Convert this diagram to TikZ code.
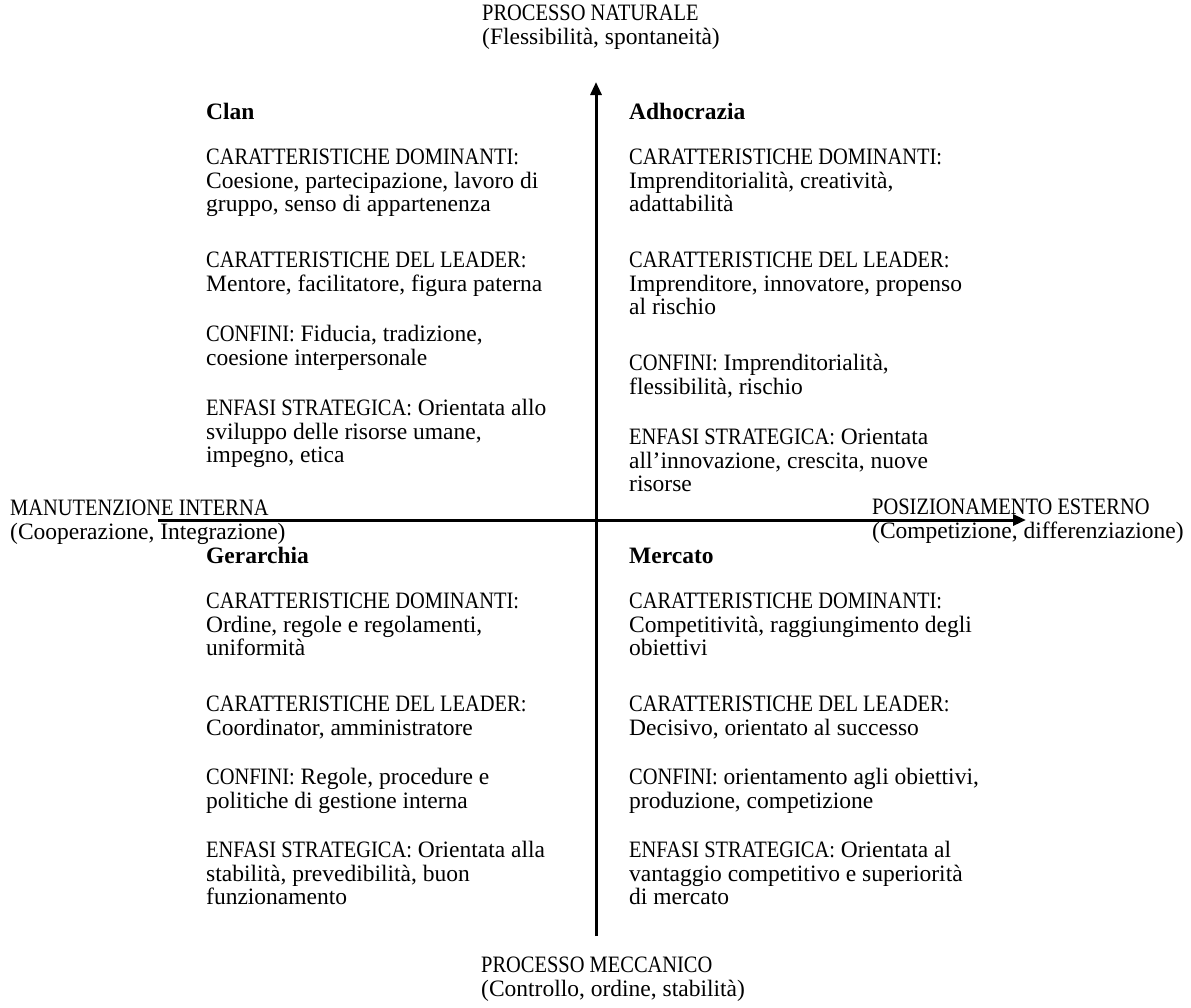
\documentclass[tikz,border=0pt]{standalone}
\usepackage{fontspec}
\setmainfont{Liberation Serif}
\newfontfamily\capfont{Liberation Serif}[FakeStretch=0.87]
\newcommand\capsx[1]{{\capfont #1}}
\usetikzlibrary{arrows.meta}
\tikzset{
  para/.style={anchor=north west, inner sep=0pt, align=left, font=\fontsize{23.5}{23}\selectfont},
  ttl/.style={para, font=\fontsize{23.5}{23}\selectfont\bfseries},
  axis/.style={line width=3pt, -{Triangle[length=13pt,width=11pt]}}
}
\begin{document}
\begin{tikzpicture}[x=1pt,y=-1pt]
\useasboundingbox (0,0) rectangle (1191,1007);
\fill[white] (0,0) rectangle (1191,1007);
% axes
\coordinate (vbot) at (596,936);
\coordinate (vtop) at (596,82);
\coordinate (hleft) at (158,520);
\coordinate (hright) at (1026,520);
\draw[axis] (vbot) -- (vtop);
\draw[axis] (hleft) -- (hright);
% axis labels
\node[para] (ltop) at (482,4) {\strut\capsx{PROCESSO NATURALE}\\(Flessibilità, spontaneità)};
\node[para] (lbot) at (481,956) {\strut\capsx{PROCESSO MECCANICO}\\(Controllo, ordine, stabilità)};
\node[para] (lleft) at (10,499) {\strut\capsx{MANUTENZIONE INTERNA}\\(Cooperazione, Integrazione)};
\node[para] (lright) at (872,498) {\strut\capsx{POSIZIONAMENTO ESTERNO}\\(Competizione, differenziazione)};
% Clan
\node[ttl] (clan) at (206,103) {\strut Clan};
\node[para] (clan1) at (206,148) {\strut\capsx{CARATTERISTICHE DOMINANTI:}\\Coesione, partecipazione, lavoro di\\gruppo, senso di appartenenza};
\node[para] (clan2) at (206,251) {\strut\capsx{CARATTERISTICHE DEL LEADER:}\\Mentore, facilitatore, figura paterna};
\node[para] (clan3) at (206,325) {\strut\capsx{CONFINI:} Fiducia, tradizione,\\coesione interpersonale};
\node[para] (clan4) at (206,399) {\strut\capsx{ENFASI STRATEGICA:} Orientata allo\\sviluppo delle risorse umane,\\impegno, etica};
% Adhocrazia
\node[ttl] (adh) at (629,103) {\strut Adhocrazia};
\node[para] (adh1) at (629,148) {\strut\capsx{CARATTERISTICHE DOMINANTI:}\\Imprenditorialità, creatività,\\adattabilità};
\node[para] (adh2) at (629,251) {\strut\capsx{CARATTERISTICHE DEL LEADER:}\\Imprenditore, innovatore, propenso\\al rischio};
\node[para] (adh3) at (629,354) {\strut\capsx{CONFINI:} Imprenditorialità,\\flessibilità, rischio};
\node[para] (adh4) at (629,428) {\strut\capsx{ENFASI STRATEGICA:} Orientata\\all’innovazione, crescita, nuove\\risorse};
% Gerarchia
\node[ttl] (ger) at (206,547) {\strut Gerarchia};
\node[para] (ger1) at (206,592) {\strut\capsx{CARATTERISTICHE DOMINANTI:}\\Ordine, regole e regolamenti,\\uniformità};
\node[para] (ger2) at (206,695) {\strut\capsx{CARATTERISTICHE DEL LEADER:}\\Coordinator, amministratore};
\node[para] (ger3) at (206,768) {\strut\capsx{CONFINI:} Regole, procedure e\\politiche di gestione interna};
\node[para] (ger4) at (206,841) {\strut\capsx{ENFASI STRATEGICA:} Orientata alla\\stabilità, prevedibilità, buon\\funzionamento};
% Mercato
\node[ttl] (mer) at (629,547) {\strut Mercato};
\node[para] (mer1) at (629,592) {\strut\capsx{CARATTERISTICHE DOMINANTI:}\\Competitività, raggiungimento degli\\obiettivi};
\node[para] (mer2) at (629,695) {\strut\capsx{CARATTERISTICHE DEL LEADER:}\\Decisivo, orientato al successo};
\node[para] (mer3) at (629,768) {\strut\capsx{CONFINI:} orientamento agli obiettivi,\\produzione, competizione};
\node[para] (mer4) at (629,841) {\strut\capsx{ENFASI STRATEGICA:} Orientata al\\vantaggio competitivo e superiorità\\di mercato};
\end{tikzpicture}
\end{document}
